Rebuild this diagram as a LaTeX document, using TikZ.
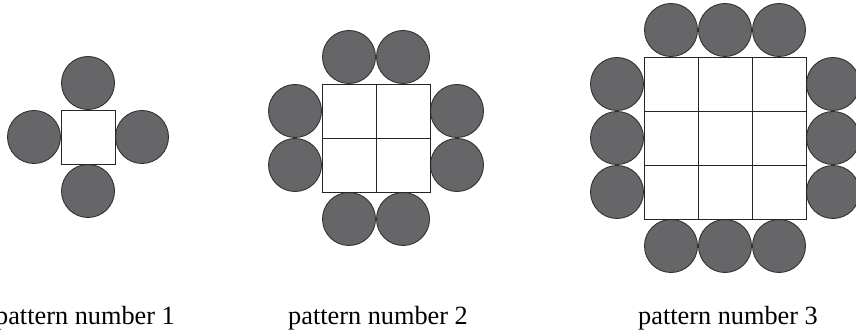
\documentclass[tikz,border=0pt]{standalone}
\usepackage{fontspec}
\setmainfont{Liberation Serif}
\definecolor{disc}{RGB}{102,102,104}
\definecolor{rim}{RGB}{50,50,50}
\tikzset{
  bead/.style={circle,draw=rim,fill=disc,line width=0.9pt,minimum size=53pt,inner sep=0pt},
  cell/.style={rectangle,draw=black!85,line width=0.9pt,minimum size=54pt,inner sep=0pt,fill=white},
  caption/.style={anchor=base,inner sep=0pt,font=\fontsize{26.3}{30}\selectfont}
}
\begin{document}
\begin{tikzpicture}[x=1pt,y=-1pt]
\useasboundingbox (0,0) rectangle (856,336);
% pattern 1
\node[bead] (a1t) at (88,83) {};
\node[bead] (a1b) at (88,191) {};
\node[bead] (a1l) at (34,137) {};
\node[bead] (a1r) at (142,137) {};
\node[cell] (a1c) at (88,137) {};
\node[caption] (l1) at (85,325) {pattern number 1};
% pattern 2
\foreach \i/\x in {1/349,2/403}{
  \node[bead] (b2t\i) at (\x,57) {};
  \node[bead] (b2b\i) at (\x,219) {};
}
\foreach \i/\y in {1/111,2/165}{
  \node[bead] (b2l\i) at (295,\y) {};
  \node[bead] (b2r\i) at (457,\y) {};
}
\foreach \i/\x in {1/349,2/403}{
  \foreach \j/\y in {1/111,2/165}{
    \node[cell] (b2c\i\j) at (\x,\y) {};
  }
}
\node[caption] (l2) at (378,325) {pattern number 2};
% pattern 3
\foreach \i/\x in {1/671,2/725,3/779}{
  \node[bead] (c3t\i) at (\x,30) {};
  \node[bead] (c3b\i) at (\x,246) {};
}
\foreach \i/\y in {1/84,2/138,3/192}{
  \node[bead] (c3l\i) at (617,\y) {};
  \node[bead] (c3r\i) at (833,\y) {};
}
\foreach \i/\x in {1/671,2/725,3/779}{
  \foreach \j/\y in {1/84,2/138,3/192}{
    \node[cell] (c3c\i\j) at (\x,\y) {};
  }
}
\node[caption] (l3) at (728,325) {pattern number 3};
\end{tikzpicture}
\end{document}
